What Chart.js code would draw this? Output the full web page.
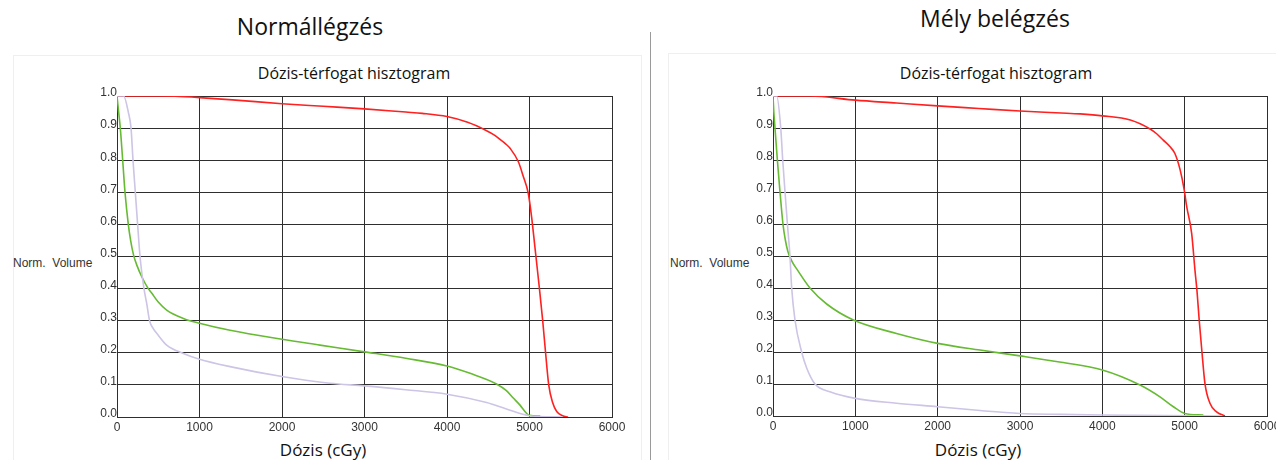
<!DOCTYPE html>
<html><head><meta charset="utf-8">
<script src="https://cdn.jsdelivr.net/npm/chart.js@4.4.1/dist/chart.umd.min.js"></script>
<style>
html,body{margin:0;padding:0;background:#fff;}
body{width:1276px;height:460px;position:relative;overflow:hidden;font-family:"Open Sans",sans-serif;}
.t{position:absolute;white-space:pre;line-height:1;transform:translateX(-50%);color:#111;}
.big{font-size:23px;}
.sub{font-size:16px;}
.xl{font-size:17px;}
.yl{position:absolute;white-space:pre;line-height:1;font-family:"Liberation Sans",Arial,sans-serif;font-size:12px;color:#333;}
.panel{position:absolute;border:1px solid #efefef;box-sizing:border-box;}
.div{position:absolute;left:650px;top:32px;width:1px;height:428px;background:#9a9a9a;}
.cw{position:absolute;top:0;height:460px;}
</style></head>
<body>
<div class="panel" style="left:13px;top:55px;width:629px;height:410px;"></div>
<div class="panel" style="left:668px;top:53px;width:612px;height:412px;"></div>
<div class="div"></div>
<div class="t big" style="left:310px;top:15px;">Normállégzés</div>
<div class="t big" style="left:995px;top:7px;">Mély belégzés</div>
<div class="t sub" style="left:354px;top:65px;">Dózis-térfogat hisztogram</div>
<div class="t sub" style="left:996px;top:65px;">Dózis-térfogat hisztogram</div>
<div class="t xl" style="left:323px;top:441px;">Dózis (cGy)</div>
<div class="t xl" style="left:978px;top:441px;">Dózis (cGy)</div>
<div class="yl" style="left:13px;top:257px;">Norm.  Volume</div>
<div class="yl" style="left:670px;top:257px;">Norm.  Volume</div>
<div class="cw" style="left:0;width:640px;"><canvas id="c1"></canvas></div>
<div class="cw" style="left:650px;width:626px;"><canvas id="c2"></canvas></div>
<script>
// ---- Data ----
const xTicks = [0, 1000, 2000, 3000, 4000, 5000, 6000];
const yTicks = [0.0, 0.1, 0.2, 0.3, 0.4, 0.5, 0.6, 0.7, 0.8, 0.9, 1.0];

// Normállégzés (left)
const normRedDose = [0, 500, 700, 1000, 1400, 2000, 2500, 3000, 3500, 3700, 4000, 4250, 4480, 4570, 4650, 4710, 4765, 4865, 4925, 4985, 5025, 5065, 5120, 5160, 5195, 5233, 5280, 5330, 5400, 5467];
const normRedVol  = [1.0, 1.0, 0.999, 0.995, 0.988, 0.976, 0.968, 0.960, 0.950, 0.946, 0.936, 0.918, 0.892, 0.879, 0.863, 0.851, 0.837, 0.795, 0.749, 0.697, 0.624, 0.531, 0.401, 0.300, 0.200, 0.100, 0.045, 0.017, 0.004, 0.0];
const normGreenDose = [0, 20, 40, 69, 97, 137, 165, 200, 245, 300, 379, 420, 500, 602, 804, 1000, 1370, 2000, 2460, 3000, 3500, 4000, 4280, 4600, 4720, 4800, 4885, 4966, 5000, 5130];
const normGreenVol  = [1.0, 0.95, 0.90, 0.80, 0.70, 0.60, 0.55, 0.505, 0.47, 0.437, 0.40, 0.386, 0.358, 0.333, 0.307, 0.292, 0.270, 0.242, 0.224, 0.203, 0.183, 0.159, 0.136, 0.103, 0.082, 0.060, 0.037, 0.011, 0.005, 0.003];
const normLavDose = [0, 80, 137, 170, 194, 222, 250, 279, 327, 360, 395, 440, 481, 602, 804, 1000, 1370, 2000, 2580, 3000, 3500, 4000, 4480, 4720, 5000, 5400];
const normLavVol  = [1.0, 1.0, 0.95, 0.90, 0.80, 0.70, 0.60, 0.50, 0.40, 0.354, 0.30, 0.275, 0.261, 0.224, 0.198, 0.18, 0.157, 0.126, 0.105, 0.097, 0.085, 0.071, 0.045, 0.025, 0.004, 0.0];

// Mély belégzés (right)
const melyRedDose = [0, 450, 1000, 1500, 2000, 2500, 3000, 3500, 3730, 4000, 4340, 4580, 4660, 4740, 4820, 4880, 4945, 4995, 5025, 5085, 5125, 5150, 5177, 5210, 5246, 5307, 5388, 5489];
const melyRedVol  = [1.0, 1.0, 0.987, 0.978, 0.969, 0.961, 0.953, 0.947, 0.944, 0.938, 0.925, 0.897, 0.882, 0.862, 0.842, 0.821, 0.769, 0.706, 0.654, 0.571, 0.456, 0.390, 0.298, 0.200, 0.102, 0.040, 0.013, 0.0];
const melyGreenDose = [0, 10, 24, 53, 85, 121, 150, 180, 227, 300, 449, 652, 976, 1500, 2000, 2514, 3000, 3500, 4000, 4458, 4700, 4863, 5000, 5227];
const melyGreenVol  = [1.0, 0.95, 0.90, 0.80, 0.70, 0.60, 0.55, 0.515, 0.485, 0.455, 0.40, 0.35, 0.30, 0.258, 0.227, 0.206, 0.188, 0.168, 0.144, 0.097, 0.060, 0.029, 0.008, 0.003];
const melyLavDose = [0, 45, 94, 118, 146, 175, 206, 227, 267, 348, 409, 510, 700, 1000, 1500, 2000, 2514, 3000, 3500, 4000, 4400, 5450];
const melyLavVol  = [1.0, 1.0, 0.90, 0.80, 0.70, 0.60, 0.50, 0.40, 0.30, 0.20, 0.15, 0.10, 0.075, 0.055, 0.040, 0.029, 0.017, 0.008, 0.005, 0.003, 0.002, 0.0];

const RED = '#ff2020', GREEN = '#66bb33', LAV = '#cdc4e6';
const GRID = '#2e2e2e';

function pts(xs, ys) { return xs.map((x, i) => ({ x: x, y: ys[i] })); }
function ds(xs, ys, color) {
  return { data: pts(xs, ys), borderColor: color, backgroundColor: color, borderWidth: 1.6,
           pointRadius: 0, fill: false, cubicInterpolationMode: 'monotone' };
}

function make(id, sets, areaLeft, areaRight, areaTop, areaBottom, canvasW) {
  return new Chart(document.getElementById(id), {
    type: 'line',
    data: { datasets: sets },
    options: {
      responsive: true, maintainAspectRatio: false, animation: false, devicePixelRatio: 1,
      layout: { padding: { left: 0, top: areaTop, right: canvasW - areaRight, bottom: 0 } },
      plugins: { legend: { display: false }, tooltip: { enabled: false }, title: { display: false } },
      scales: {
        x: {
          type: 'linear', min: xTicks[0], max: xTicks[xTicks.length - 1],
          afterBuildTicks: s => { s.ticks = xTicks.map(v => ({ value: v })); },
          afterFit: s => { s.height = 460 - areaBottom; s.paddingLeft = 0; s.paddingRight = 0; },
          grid: { color: GRID, lineWidth: 1, drawTicks: false },
          border: { display: true, color: GRID, width: 1 },
          ticks: { padding: 3, color: '#333', maxRotation: 0, autoSkip: false,
                   font: { family: '"Liberation Sans", Arial, sans-serif', size: 12 },
                   callback: v => String(v) }
        },
        y: {
          type: 'linear', min: 0, max: 1,
          afterBuildTicks: s => { s.ticks = yTicks.map(v => ({ value: v })); },
          afterFit: s => { s.width = areaLeft; s.paddingTop = 0; s.paddingBottom = 0; },
          grid: { color: GRID, lineWidth: 1, drawTicks: false },
          border: { display: true, color: GRID, width: 1 },
          ticks: { padding: 0, labelOffset: -3, color: '#333', autoSkip: false,
                   font: { family: '"Liberation Sans", Arial, sans-serif', size: 12 },
                   callback: v => Number(v).toFixed(1) }
        }
      }
    }
  });
}

make('c1', [ds(normLavDose, normLavVol, LAV), ds(normGreenDose, normGreenVol, GREEN), ds(normRedDose, normRedVol, RED)],
     117, 612, 96, 417, 640);
make('c2', [ds(melyLavDose, melyLavVol, LAV), ds(melyGreenDose, melyGreenVol, GREEN), ds(melyRedDose, melyRedVol, RED)],
     123, 617, 96, 416, 626);
</script>
</body></html>
